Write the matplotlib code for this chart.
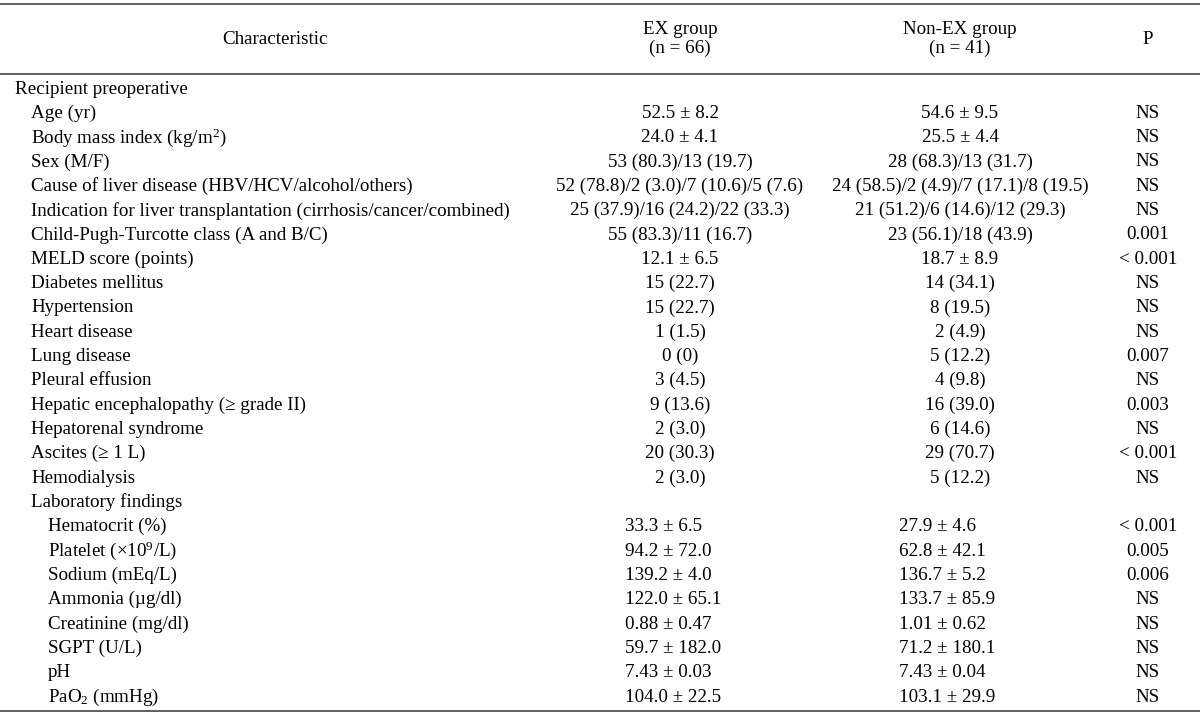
import matplotlib
matplotlib.use('Agg')
import matplotlib.pyplot as plt

plt.rcParams['font.family'] = ['Liberation Serif', 'DejaVu Serif']
plt.rcParams['mathtext.fontset'] = 'custom'
plt.rcParams['mathtext.rm'] = 'Liberation Serif'
plt.rcParams['mathtext.it'] = 'Liberation Serif:italic'

# Table data
headers = ['Characteristic', 'EX group\n(n = 66)', 'Non-EX group\n(n = 41)', 'P']

labels = [
    'Recipient preoperative', 'Age (yr)', 'Body mass index (kg/m$^2$)', 'Sex (M/F)',
    'Cause of liver disease (HBV/HCV/alcohol/others)',
    'Indication for liver transplantation (cirrhosis/cancer/combined)',
    'Child-Pugh-Turcotte class (A and B/C)', 'MELD score (points)',
    'Diabetes mellitus', 'Hypertension', 'Heart disease', 'Lung disease',
    'Pleural effusion', 'Hepatic encephalopathy (\u2265 grade II)',
    'Hepatorenal syndrome', 'Ascites (\u2265 1 L)', 'Hemodialysis',
    'Laboratory findings', 'Hematocrit (%)', 'Platelet (\u00d710$^9$/L)',
    'Sodium (mEq/L)', 'Ammonia (\u00b5g/dl)', 'Creatinine (mg/dl)',
    'SGPT (U/L)', 'pH', 'PaO$_2$ (mmHg)',
]
indent = [0, 1, 1, 1, 1, 1, 1, 1, 1, 1, 1, 1, 1, 1, 1, 1, 1, 1, 2, 2, 2, 2, 2, 2, 2, 2]

ex_group = [
    '', '52.5 \u00b1 8.2', '24.0 \u00b1 4.1', '53 (80.3)/13 (19.7)',
    '52 (78.8)/2 (3.0)/7 (10.6)/5 (7.6)', '25 (37.9)/16 (24.2)/22 (33.3)',
    '55 (83.3)/11 (16.7)', '12.1 \u00b1 6.5', '15 (22.7)', '15 (22.7)',
    '1 (1.5)', '0 (0)', '3 (4.5)', '9 (13.6)', '2 (3.0)', '20 (30.3)', '2 (3.0)',
    '', '33.3 \u00b1 6.5', '94.2 \u00b1 72.0', '139.2 \u00b1 4.0', '122.0 \u00b1 65.1',
    '0.88 \u00b1 0.47', '59.7 \u00b1 182.0', '7.43 \u00b1 0.03', '104.0 \u00b1 22.5',
]
non_ex_group = [
    '', '54.6 \u00b1 9.5', '25.5 \u00b1 4.4', '28 (68.3)/13 (31.7)',
    '24 (58.5)/2 (4.9)/7 (17.1)/8 (19.5)', '21 (51.2)/6 (14.6)/12 (29.3)',
    '23 (56.1)/18 (43.9)', '18.7 \u00b1 8.9', '14 (34.1)', '8 (19.5)',
    '2 (4.9)', '5 (12.2)', '4 (9.8)', '16 (39.0)', '6 (14.6)', '29 (70.7)', '5 (12.2)',
    '', '27.9 \u00b1 4.6', '62.8 \u00b1 42.1', '136.7 \u00b1 5.2', '133.7 \u00b1 85.9',
    '1.01 \u00b1 0.62', '71.2 \u00b1 180.1', '7.43 \u00b1 0.04', '103.1 \u00b1 29.9',
]
p_values = [
    '', 'NS', 'NS', 'NS', 'NS', 'NS', '0.001', '< 0.001', 'NS', 'NS', 'NS',
    '0.007', 'NS', '0.003', 'NS', '< 0.001', 'NS', '', '< 0.001', '0.005',
    '0.006', 'NS', 'NS', 'NS', 'NS', 'NS',
]

fig = plt.figure(figsize=(12, 7.14), dpi=100)
ax = fig.add_axes([0, 0, 1, 1])
ax.set_xlim(0, 1200)
ax.set_ylim(714, 0)
ax.axis('off')

fs = 13.7
col_x = [275, 680, 960, 1148]
lab_left = [625, 899]
indent_x = [15, 31, 48]
line_color = '#333333'

# rules
for y in [4, 74, 711]:
    ax.plot([0, 1200], [y, y], color=line_color, lw=1.1, solid_capstyle='butt')

# header
for x, h in zip(col_x, headers):
    ax.text(x, 39, h, ha='center', va='center', fontsize=fs, linespacing=1.15)

# body rows
y0, step = 89, 24.32
for i, lab in enumerate(labels):
    y = y0 + i * step
    ax.text(indent_x[indent[i]], y, lab, ha='left', va='center', fontsize=fs)
    if indent[i] == 2:
        # lab values sit left-aligned in their columns
        ax.text(lab_left[0], y, ex_group[i], ha='left', va='center', fontsize=fs)
        ax.text(lab_left[1], y, non_ex_group[i], ha='left', va='center', fontsize=fs)
    else:
        ax.text(col_x[1], y, ex_group[i], ha='center', va='center', fontsize=fs)
        ax.text(col_x[2], y, non_ex_group[i], ha='center', va='center', fontsize=fs)
    ax.text(col_x[3], y, p_values[i], ha='center', va='center', fontsize=fs)

fig.savefig('out.png', dpi=100)
